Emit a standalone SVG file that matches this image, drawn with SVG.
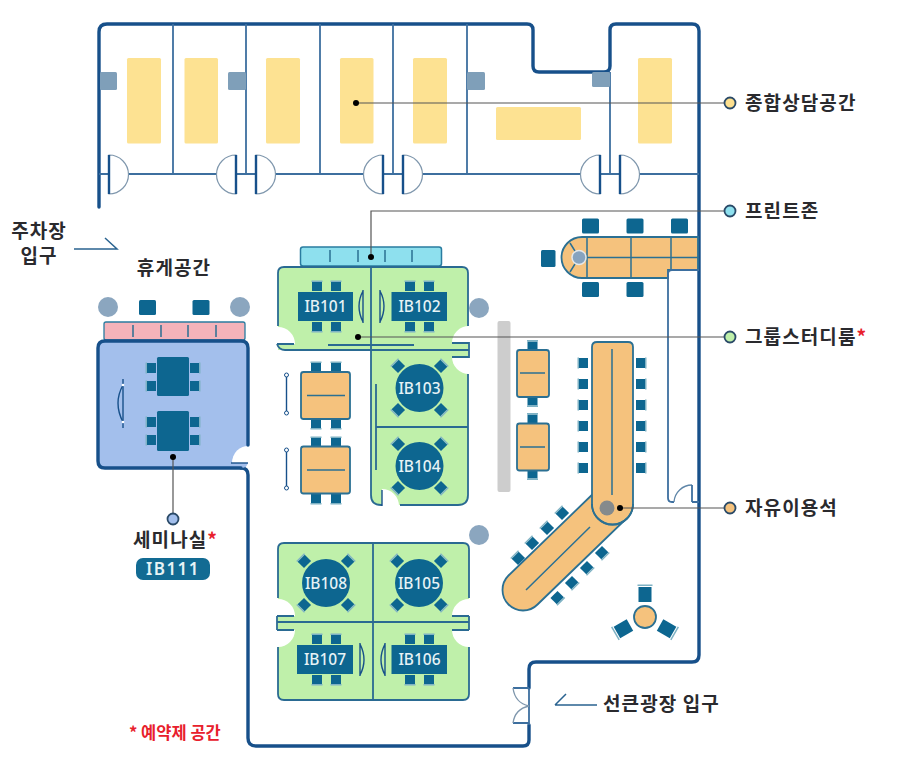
<svg xmlns="http://www.w3.org/2000/svg" width="897" height="769" viewBox="0 0 897 769">
<style>
text{font-family:"Noto Sans CJK KR","Noto Sans",sans-serif;font-weight:700;fill:#2a2a2e}
.lbl{font-size:19px;letter-spacing:1.1px}
.rm{font-family:"Noto Sans","Noto Sans CJK KR",sans-serif;font-size:15.5px;font-weight:500;fill:#e6f3f6;text-anchor:middle}
.wall{fill:none;stroke:#17508a;stroke-width:3.4;stroke-linecap:round}
.part{fill:none;stroke:#3d6f9f;stroke-width:1.8}
.rw{fill:none;stroke:#2a6a92;stroke-width:1.8}
.yl{fill:#fde292}
.gs{fill:#7f9fb9}
.gc{fill:#8ba6bf}
.dr{fill:#fff;stroke:#7f97ad;stroke-width:1.2}
.dj{fill:none;stroke:#17508a;stroke-width:2.4}
.gr{fill:#bff0aa}
.wh{fill:#fff}
.or{fill:#f5c27d;stroke:#2b7093;stroke-width:1.8}
.ol{fill:none;stroke:#2b7093;stroke-width:1.5}
.tb{fill:#0d6690}
.bar{fill:#7fb2c4}
.lead{fill:none;stroke:#555;stroke-width:1.2}
.thin{fill:none;stroke:#17508a;stroke-width:1.4}
.dot{fill:#000}
.end{stroke:#2a4a68;stroke-width:1.8}
.arr{fill:none;stroke:#2a6390;stroke-width:1.5}
</style>
<defs>
<g id="ch"><rect class="tb" x="-5" y="-4" width="10" height="9"/><rect class="bar" x="-5.5" y="-5.5" width="11" height="1.5"/></g>
<g id="sq"><rect class="tb" x="-8.5" y="-7.5" width="17" height="15" rx="1.5"/></g>
<g id="wb"><path class="thin" stroke-width="2" d="M0,0V38"/><circle cx="0" cy="0" r="2" fill="#fff" stroke="#17508a"/><circle cx="0" cy="38" r="2" fill="#fff" stroke="#17508a"/></g>
</defs>

<g id="walls">
<path class="wall" d="M99,207V32Q99,24 107,24H527Q533,24 533,30V66Q533,72 539,72H604Q610,72 610,66V30Q610,24 616,24H692Q699,24 699,31V655Q699,662 692,662H536Q529,662 529,669V688M529,725V740Q529,746 523,746H256Q248,746 248,738V475Q248,468 241,468"/>
<path class="part" d="M173,24V174M246,24V174M320,24V174M393,24V174M467,24V174M610,72V174M99,174H699"/>
</g>

<g id="consult">
<rect class="gs" x="100" y="72" width="17" height="18" rx="1.5"/><rect class="gs" x="228" y="72" width="18" height="18" rx="1.5"/><rect class="gs" x="467" y="72" width="18" height="18" rx="1.5"/><rect class="gs" x="592" y="72" width="18" height="15" rx="1.5"/>
<rect class="yl" x="127" y="58" width="34" height="85.500" rx="1.500"/><rect class="yl" x="184.500" y="58" width="33.500" height="85.500" rx="1.500"/><rect class="yl" x="266" y="58" width="34" height="85.500" rx="1.500"/><rect class="yl" x="340" y="58" width="33.500" height="85.500" rx="1.500"/><rect class="yl" x="413" y="58" width="34" height="85.500" rx="1.500"/><rect class="yl" x="496" y="107" width="85" height="33" rx="1.500"/><rect class="yl" x="638" y="58" width="34" height="85.500" rx="1.500"/>
<path class="dr" d="M109,155A19.500 19.500 0 0 1 109,194Z"/><path class="dr" d="M236,155A19.500 19.500 0 0 0 236,194Z"/><path class="dr" d="M256,155A19.500 19.500 0 0 1 256,194Z"/><path class="dr" d="M383,155A19.500 19.500 0 0 0 383,194Z"/><path class="dr" d="M403,155A19.500 19.500 0 0 1 403,194Z"/><path class="dr" d="M600,155A19.500 19.500 0 0 0 600,194Z"/><path class="dr" d="M620,155A19.500 19.500 0 0 1 620,194Z"/>
<path class="dj" d="M109,155V194M236,155V194M256,155V194M383,155V194M403,155V194M600,155V194M620,155V194"/>
</g>

<g id="print-zone">
<rect x="300.500" y="247" width="141" height="19" rx="2.500" fill="#8ee0ee" stroke="#2a7ca0" stroke-width="1.500"/>
<path class="ol" d="M330,250V262M358,250V262M385,250V262M412,250V262"/>
</g>

<g id="rest">
<rect x="104" y="322" width="141" height="18" rx="2" fill="#f4b3ba" stroke="#2a7ca0" stroke-width="1.300"/>
<path class="ol" d="M133,325V337M161,325V337M188,325V337M216,325V337"/>
<circle class="gc" cx="108" cy="307" r="10"/><circle class="gc" cx="240" cy="307" r="10"/>
<rect class="tb" x="139" y="300" width="17" height="15" rx="1.500"/><rect class="tb" x="192.500" y="300" width="17" height="15" rx="1.500"/>
</g>

<g id="seminar">
<rect x="98" y="341" width="150" height="127" rx="6" fill="#a3bfec"/>
<path class="wh" d="M249,463H232A16 17 0 0 1 249,446Z"/>
<path class="wall" d="M248,445V348Q248,341 241,341H105Q98,341 98,348V461Q98,468 105,468H241"/>
<path class="thin" stroke-width="2" d="M231,463H248"/>
<rect class="tb" x="157" y="357" width="32" height="39" rx="1.500"/><rect class="tb" x="157" y="411" width="32" height="40" rx="1.500"/>
<use href="#ch" transform="translate(151,368) rotate(-90)"/><use href="#ch" transform="translate(151,386) rotate(-90)"/><use href="#ch" transform="translate(151,422) rotate(-90)"/><use href="#ch" transform="translate(151,440) rotate(-90)"/>
<use href="#ch" transform="translate(195,368) rotate(90)"/><use href="#ch" transform="translate(195,386) rotate(90)"/><use href="#ch" transform="translate(195,422) rotate(90)"/><use href="#ch" transform="translate(195,440) rotate(90)"/>
<path class="thin" stroke-width="2.200" d="M123,379V428"/><path class="thin" d="M123,385Q113,403 123,422"/>
<circle cx="123" cy="385" r="1.300" fill="#fff"/><circle cx="123" cy="422" r="1.300" fill="#fff"/>
</g>

<g id="rooms-top">
<path class="gr" d="M278,272Q278,267 283,267H463Q468,267 468,272V350H278Z"/>
<path class="gr" d="M371,350H468V495Q468,505 458,505H381Q371,505 371,495Z"/>
<path class="wh" d="M278,344V327A17 17 0 0 1 295,344Z"/><path class="wh" d="M469,343V326A17 17 0 0 0 452,343Z"/><path class="wh" d="M469,357V374A17 17 0 0 1 452,357Z"/><path class="wh" d="M382,506V489A17 17 0 0 1 399,506Z"/>
<path class="rw" d="M278,326V273Q278,267 284,267H462Q468,267 468,273V326M468,374V495Q468,505 458,505H400M382,505H381Q371,505 371,495V267"/>
<path class="rw" d="M277,344H294M277,344Q279,350 285,350H469V343H452M469,350V357H452M328,345H414M376,384V470M376,427H468"/>
<path class="thin" stroke-width="2" d="M382,490V506"/>
<g id="IB101"><use href="#ch" x="317" y="286"/><use href="#ch" x="336" y="286"/><use href="#ch" transform="translate(317,327) rotate(180)"/><use href="#ch" transform="translate(336,327) rotate(180)"/><rect class="tb" x="298" y="292" width="55" height="29"/><text class="rm" x="325.500" y="312">IB101</text><path class="thin" d="M363,290V323M363,291Q355,306 363,322"/></g>
<g id="IB102"><use href="#ch" x="410" y="286"/><use href="#ch" x="429" y="286"/><use href="#ch" transform="translate(410,327) rotate(180)"/><use href="#ch" transform="translate(429,327) rotate(180)"/><rect class="tb" x="391.500" y="292" width="55.500" height="29"/><text class="rm" x="419.500" y="312">IB102</text><path class="thin" d="M380,290V323M380,291Q388,306 380,322"/></g>
<g id="IB103"><use href="#ch" transform="translate(398,366) rotate(-45)"/><use href="#ch" transform="translate(441,366) rotate(45)"/><use href="#ch" transform="translate(398,410) rotate(-135)"/><use href="#ch" transform="translate(441,410) rotate(135)"/><circle class="tb" cx="419.500" cy="388" r="24"/><text class="rm" x="419.500" y="394">IB103</text></g>
<g id="IB104"><use href="#ch" transform="translate(398,444) rotate(-45)"/><use href="#ch" transform="translate(441,444) rotate(45)"/><use href="#ch" transform="translate(398,488) rotate(-135)"/><use href="#ch" transform="translate(441,488) rotate(135)"/><circle class="tb" cx="419.500" cy="466" r="24"/><text class="rm" x="419.500" y="472">IB104</text></g>
</g>

<g id="rooms-bottom">
<rect class="gr" x="278" y="543" width="191" height="157" rx="5"/>
<path class="wh" d="M278,616V599A17 17 0 0 1 295,616Z"/><path class="wh" d="M278,630V647A17 17 0 0 0 295,630Z"/><path class="wh" d="M469,616V599A17 17 0 0 0 452,616Z"/><path class="wh" d="M469,630V647A17 17 0 0 1 452,630Z"/>
<path class="rw" d="M278,598V549Q278,543 284,543H463Q469,543 469,549V598M278,647V694Q278,700 284,700H463Q469,700 469,694V647M373,543V700M277,622H469M277,616H294M277,630H294M452,616H469M452,630H469M277,616V630M469,616V630"/>
<g id="IB108"><use href="#ch" transform="translate(304,561) rotate(-45)"/><use href="#ch" transform="translate(348,561) rotate(45)"/><use href="#ch" transform="translate(304,605) rotate(-135)"/><use href="#ch" transform="translate(348,605) rotate(135)"/><circle class="tb" cx="326" cy="583" r="24"/><text class="rm" x="326" y="589">IB108</text></g>
<g id="IB105"><use href="#ch" transform="translate(397,561) rotate(-45)"/><use href="#ch" transform="translate(441,561) rotate(45)"/><use href="#ch" transform="translate(397,605) rotate(-135)"/><use href="#ch" transform="translate(441,605) rotate(135)"/><circle class="tb" cx="419" cy="583" r="24"/><text class="rm" x="419" y="589">IB105</text></g>
<g id="IB107"><use href="#ch" x="317" y="639"/><use href="#ch" x="336" y="639"/><use href="#ch" transform="translate(317,680) rotate(180)"/><use href="#ch" transform="translate(336,680) rotate(180)"/><rect class="tb" x="297" y="645" width="56" height="29"/><text class="rm" x="325" y="665">IB107</text><path class="thin" d="M360,643V676M360,644Q368,660 360,675"/></g>
<g id="IB106"><use href="#ch" x="410" y="639"/><use href="#ch" x="429" y="639"/><use href="#ch" transform="translate(410,680) rotate(180)"/><use href="#ch" transform="translate(429,680) rotate(180)"/><rect class="tb" x="391.500" y="645" width="55.500" height="29"/><text class="rm" x="419.500" y="665">IB106</text><path class="thin" d="M385,643V676M385,644Q377,660 385,675"/></g>
</g>

<g id="study-left">
<use href="#ch" x="316" y="367"/><use href="#ch" x="336" y="367"/><use href="#ch" transform="translate(316,424) rotate(180)"/><use href="#ch" transform="translate(336,424) rotate(180)"/>
<use href="#ch" x="316" y="442"/><use href="#ch" x="336" y="442"/><use href="#ch" transform="translate(316,499) rotate(180)"/><use href="#ch" transform="translate(336,499) rotate(180)"/>
<rect class="or" x="301" y="372" width="49" height="47" rx="2.500"/><rect class="or" x="301" y="446.500" width="49" height="47" rx="2.500"/>
<path class="ol" d="M307,395.500H345M307,470H345"/>
<use href="#wb" x="286.500" y="375"/><use href="#wb" x="286.500" y="450"/>
</g>

<g id="study-mid">
<rect x="497.500" y="321" width="13" height="171" rx="2" fill="#cdcdcd"/>
<use href="#ch" x="532.500" y="345.500"/><use href="#ch" transform="translate(532.500,401.500) rotate(180)"/><use href="#ch" x="532.500" y="418.500"/><use href="#ch" transform="translate(532.500,474.500) rotate(180)"/>
<rect class="or" x="517" y="350" width="32" height="47" rx="2.500"/><rect class="or" x="517" y="423.500" width="32" height="47" rx="2.500"/>
<path class="ol" d="M520,373H545M520,447H545"/>
</g>

<g id="study-top-right">
<use href="#sq" x="590.500" y="226"/><use href="#sq" x="635" y="226"/><use href="#sq" x="679.500" y="226"/><use href="#sq" x="590.500" y="289.500"/><use href="#sq" x="635" y="289.500"/>
<rect class="tb" x="541" y="250" width="14.500" height="17" rx="1.500"/>
<path class="or" d="M698,237H582A20.500 20.500 0 0 0 582,278H668V270H698Z"/>
<path class="ol" d="M587,237V278M631,237V278M671,237V270M575,257.500H698M579,257.500L570,243M579,257.500L570,272"/>
<circle cx="579" cy="257.500" r="7" fill="#86a3bf" stroke="#e4e8ea" stroke-width="1.500"/>
<path class="part" d="M668,498V274Q668,270 672,270H699M672,502Q668,502 668,498M672,502H674M692,502H699"/>
<path fill="none" stroke="#5f86a8" stroke-width="1.300" d="M674,502A18 18 0 0 1 692,485"/>
<path class="part" d="M692,485V502"/>
</g>

<g id="study-long">
<g transform="translate(583,0) rotate(-90)"><use href="#ch" x="-363" y="0"/><use href="#ch" x="-384" y="0"/><use href="#ch" x="-405" y="0"/><use href="#ch" x="-426" y="0"/><use href="#ch" x="-447" y="0"/><use href="#ch" x="-468" y="0"/></g>
<g transform="translate(641,0) rotate(90)"><use href="#ch" x="363" y="0"/><use href="#ch" x="384" y="0"/><use href="#ch" x="405" y="0"/><use href="#ch" x="426" y="0"/><use href="#ch" x="447" y="0"/><use href="#ch" x="468" y="0"/></g>
<use href="#ch" transform="translate(562,513) rotate(-45)"/><use href="#ch" transform="translate(547,528) rotate(-45)"/><use href="#ch" transform="translate(532,543) rotate(-45)"/><use href="#ch" transform="translate(518,558) rotate(-45)"/>
<use href="#ch" transform="translate(602,553) rotate(135)"/><use href="#ch" transform="translate(587,568) rotate(135)"/><use href="#ch" transform="translate(572,583) rotate(135)"/><use href="#ch" transform="translate(557.500,598) rotate(135)"/>
<path class="or" d="M597.500,489.500L508.500,575.500A20.500 20.500 0 0 0 537.500,604.500L626.500,518.500Z"/>
<path class="or" d="M592,347Q592,342 597,342H628Q633,342 633,347V504A20.500 20.500 0 0 1 592,504Z"/>
<path d="M593,497L593,505A19.500 19.500 0 0 0 625,519L600,497Z" fill="#f5c27d"/>
<path class="ol" d="M612,349V495M590,527L526,590"/>
<path class="or" style="fill:none" d="M592,504A20.500 20.500 0 0 0 633,504"/>
<circle cx="607" cy="508" r="7.500" fill="#858a8c"/>
</g>

<g id="lounge-round">
<circle class="or" cx="645" cy="617" r="11"/>
<g transform="translate(645,594)"><rect class="tb" x="-6.500" y="-7" width="13" height="15"/><rect class="bar" x="-7.500" y="-9.500" width="15" height="1.500"/></g>
<g transform="translate(623,629) rotate(-120)"><rect class="tb" x="-6.500" y="-7" width="13" height="15"/><rect class="bar" x="-7.500" y="-9.500" width="15" height="1.500"/></g>
<g transform="translate(667,629) rotate(120)"><rect class="tb" x="-6.500" y="-7" width="13" height="15"/><rect class="bar" x="-7.500" y="-9.500" width="15" height="1.500"/></g>
</g>

<circle id="pillar-a" class="gc" cx="479" cy="308" r="10"/>
<circle id="pillar-b" class="gc" cx="479" cy="535" r="10"/>

<g id="door-sunken">
<path class="part" d="M513,688H529M513,723H529M529,688V725"/>
<path fill="none" stroke="#7f97ad" stroke-width="1.300" d="M513,688Q515,703 529,706Q515,709 513,723"/>
</g>

<g id="connectors">
<path class="lead" d="M356,103H730M371,257V211H730M358,337H730M620,508H730M173,457V519"/>
<circle class="dot" cx="356" cy="103" r="3"/><circle class="dot" cx="371" cy="257" r="3"/><circle class="dot" cx="358" cy="337" r="3"/><circle class="dot" cx="620" cy="508" r="3"/><circle class="dot" cx="173" cy="457" r="3"/>
<path class="arr" d="M74,249H117L105,238"/>
<path class="arr" d="M555,705H597M555,705L566,694"/>
</g>

<g id="label-consult"><circle class="end" cx="730" cy="103" r="5.500" fill="#fde08f"/><text class="lbl" x="745" y="110">종합상담공간</text></g>
<g id="label-print"><circle class="end" cx="730" cy="211" r="5.500" fill="#8ee0ee"/><text class="lbl" x="745" y="218">프린트존</text></g>
<g id="label-group"><circle class="end" cx="730" cy="337" r="5.500" fill="#bff0aa"/><text class="lbl" x="745" y="344">그룹스터디룸<tspan style="fill:#e8202c">*</tspan></text></g>
<g id="label-free"><circle class="end" cx="730" cy="508" r="5.500" fill="#f5c27d"/><text class="lbl" x="745" y="515">자유이용석</text></g>
<g id="label-seminar"><circle class="end" cx="173" cy="519" r="5.500" fill="#a3bfec"/><text class="lbl" x="133" y="547">세미나실<tspan style="fill:#e8202c">*</tspan></text>
<rect x="136" y="558" width="74" height="22" rx="7" fill="#126b93"/><text x="173" y="575" style="fill:#e6f3f6;font-family:'Noto Sans',sans-serif;font-size:17px;font-weight:600;letter-spacing:1.5px;text-anchor:middle">IB111</text></g>
<text id="label-rest" class="lbl" x="174" y="275" text-anchor="middle">휴게공간</text>
<g id="label-parking"><text class="lbl" x="39" y="238" text-anchor="middle">주차장</text><text class="lbl" x="39" y="263" text-anchor="middle">입구</text></g>
<text id="label-sunken" class="lbl" x="603" y="711">선큰광장 입구</text>
<text id="label-note" x="129" y="739" style="fill:#e8202c;font-size:16.5px">* 예약제 공간</text>
</svg>
